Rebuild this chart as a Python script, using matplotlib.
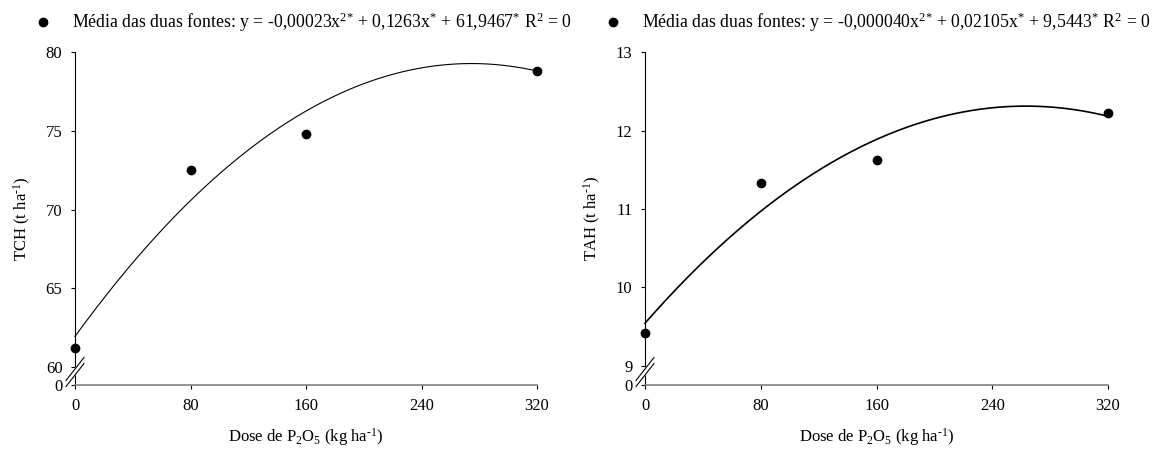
import matplotlib
matplotlib.use("Agg")
import matplotlib.pyplot as plt
import numpy as np

plt.rcParams['font.family'] = ['Liberation Serif', 'DejaVu Serif']
plt.rcParams['mathtext.fontset'] = 'custom'
plt.rcParams['mathtext.rm'] = 'Liberation Serif'
plt.rcParams['mathtext.it'] = 'Liberation Serif:italic'
plt.rcParams['font.size'] = 12

# doses de P2O5 (kg/ha)
doses = [0, 80, 160, 320]

# TCH (t/ha) e TAH (t/ha), media das duas fontes
tch = [61.2, 72.5, 74.8, 78.8]
tah = [9.42, 11.33, 11.62, 12.22]

# coeficientes da regressao quadratica (a, b, c): y = a x^2 + b x + c
coef_tch = [-0.00023, 0.1263, 61.9467]
coef_tah = [-0.000040, 0.02105, 9.5443]

eq_tch = (r'Média das duas fontes: y = -0,00023x$^{\text{2*}}$ + 0,1263x$^{\text{*}}$'
          r' + 61,9467$^{\text{*}}$ R$^{2}$ = 0')
eq_tah = (r'Média das duas fontes: y = -0,000040x$^{\text{2*}}$ + 0,02105x$^{\text{*}}$'
          r' + 9,5443$^{\text{*}}$ R$^{2}$ = 0')

xticks = [0, 80, 160, 240, 320]


def painel(ax, y, coef, yticks, ybot, ylabel, eq, lw):
    xs = np.linspace(0, 320, 300)
    a, b, c = coef
    ax.plot(xs, a * xs**2 + b * xs + c, color='black', lw=lw, clip_on=False)
    ax.plot(doses, y, 'o', color='black', ms=6, clip_on=False, label=eq)

    ax.set_xlim(0, 320)
    ax.set_ylim(ybot, yticks[-1])
    ax.set_xticks(xticks)
    ax.set_yticks([ybot] + yticks)
    ax.set_yticklabels(['0'] + [str(t) for t in yticks])

    for s in ('top', 'right'):
        ax.spines[s].set_visible(False)
    ax.spines['left'].set_linewidth(0.8)
    ax.spines['bottom'].set_color('#808080')
    ax.spines['bottom'].set_linewidth(1.2)
    ax.tick_params(axis='y', direction='out', length=3, width=0.8, pad=6, labelsize=12)
    ax.tick_params(axis='x', direction='out', length=3, width=0.8, pad=6, labelsize=12)

    ax.set_xlabel(r'Dose de P$_2$O$_5$ (kg ha$^{\text{-}1}$)', fontsize=12, labelpad=9)
    ax.set_ylabel(ylabel, fontsize=12, labelpad=9)

    # quebra do eixo y entre 0 e o primeiro valor
    w = ax.bbox.width
    h = ax.bbox.height
    dx, dy = 9 / w, 11.5 / h
    y1, y2 = 16 / h, 10 / h
    ax.fill([-dx, dx, dx, -dx], [y1 - dy, y1 + dy, y2 + dy, y2 - dy],
            color='white', transform=ax.transAxes, clip_on=False, zorder=5)
    for yc in (y1, y2):
        ax.plot([-dx, dx], [yc - dy, yc + dy], color='black', lw=0.8,
                transform=ax.transAxes, clip_on=False, zorder=6)

    ax.legend(loc='lower left', bbox_to_anchor=(-0.088, 1.055), frameon=False,
              handlelength=1, handletextpad=1.1, borderpad=0, borderaxespad=0,
              fontsize=12.8, markerscale=1)


fig = plt.figure(figsize=(11.63, 4.5), dpi=100)
ax1 = fig.add_axes([75 / 1163, 65 / 450, 462 / 1163, 332.7 / 450])
ax2 = fig.add_axes([645 / 1163, 65 / 450, 463 / 1163, 332.7 / 450])

painel(ax1, tch, coef_tch, [60, 65, 70, 75, 80], 58.86, r'TCH (t ha$^{\text{-}1}$)', eq_tch, 0.8)
painel(ax2, tah, coef_tah, [9, 10, 11, 12, 13], 8.756, r'TAH (t ha$^{\text{-}1}$)', eq_tah, 1.2)

fig.savefig('out.png', dpi=100)
